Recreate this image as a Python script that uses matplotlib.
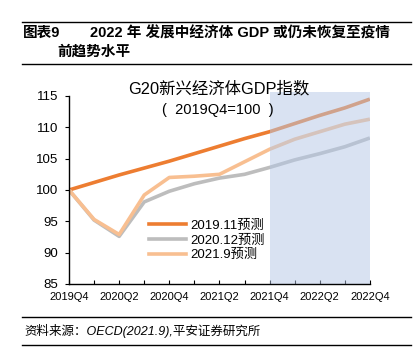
import matplotlib
matplotlib.use('Agg')
import matplotlib.pyplot as plt
from matplotlib.lines import Line2D

plt.rcParams['font.family'] = ['Liberation Sans', 'Noto Sans CJK SC', 'DejaVu Sans']

quarters = ['2019Q4', '2020Q1', '2020Q2', '2020Q3', '2020Q4', '2021Q1', '2021Q2',
            '2021Q3', '2021Q4', '2022Q1', '2022Q2', '2022Q3', '2022Q4']
fc_2019_11 = [100.0, 101.2, 102.4, 103.5, 104.6, 105.8, 107.0, 108.2, 109.3, 110.6, 111.9, 113.1, 114.5]
fc_2020_12 = [100.0, 95.2, 92.6, 98.1, 99.8, 101.0, 101.9, 102.5, 103.6, 104.8, 105.8, 106.9, 108.3]
fc_2021_9 = [100.0, 95.3, 92.9, 99.2, 102.0, 102.2, 102.5, 104.5, 106.5, 108.1, 109.3, 110.5, 111.3]
series_names = ['2019.11预测', '2020.12预测', '2021.9预测']
colors = ['#ED7D31', '#BDBDBD', '#F8BF91']

fig = plt.figure(figsize=(4.17, 3.55), dpi=100)
ax = fig.add_axes([0.1655, 0.2, 0.7215, 0.5296])

x = list(range(len(quarters)))
for vals, name, c in zip([fc_2019_11, fc_2020_12, fc_2021_9], series_names, colors):
    ax.plot(x, vals, color=c, lw=2.6, label=name, solid_capstyle='butt', zorder=3)

# forecast period shading
ax.axvspan(quarters.index('2021Q4'), len(quarters) - 1, ymin=0, ymax=1.02,
           color='#B4C7E7', alpha=0.5, lw=0, zorder=4, clip_on=False)

ax.set_xlim(0, len(quarters) - 1)
ax.set_ylim(85, 115)
ax.set_yticks(range(85, 116, 5))
ax.set_xticks(x)
ax.set_xticklabels([q if i % 2 == 0 else '' for i, q in enumerate(quarters)])
ax.tick_params(axis='x', direction='in', length=3, labelsize=8, pad=6)
ax.tick_params(axis='y', direction='out', length=3, labelsize=9.5, pad=5)
for s in ['top', 'right']:
    ax.spines[s].set_visible(False)
for s in ['left', 'bottom']:
    ax.spines[s].set_linewidth(1.0)
    ax.spines[s].set_zorder(5)

handles = [Line2D([0], [0], color=c, lw=2.6) for c in colors]
ax.legend(handles, series_names, loc='lower left', bbox_to_anchor=(0.245, 0.085),
          frameon=False, fontsize=9.5, handlelength=2.8, handletextpad=0.3,
          labelspacing=0.2, borderpad=0)

fig.text(0.525, 0.752, 'G20新兴经济体GDP指数', ha='center', va='center', fontsize=11.8)
fig.text(0.522, 0.69, '(  2019Q4=100  )', ha='center', va='center', fontsize=10.5)

# header and footer
fig.add_artist(Line2D([0.053, 0.985], [0.938, 0.938], color='black', lw=1))
fig.add_artist(Line2D([0.053, 0.985], [0.82, 0.82], color='black', lw=1))
fig.text(0.055, 0.907, '图表9', fontsize=10.5, fontweight='bold', va='center')
fig.text(0.215, 0.907, '2022 年 发展中经济体 GDP 或仍未恢复至疫情', fontsize=10.5,
         fontweight='bold', va='center')
fig.text(0.137, 0.855, '前趋势水平', fontsize=10.5, fontweight='bold', va='center')

fig.add_artist(Line2D([0.053, 0.985], [0.107, 0.107], color='black', lw=1))
fig.add_artist(Line2D([0.053, 0.985], [0.028, 0.028], color='black', lw=1))
fig.text(0.058, 0.068, '资料来源：OECD(2021.9),平安证券研究所', fontsize=9,
         style='italic', va='center')

fig.savefig('out.png', dpi=100)
